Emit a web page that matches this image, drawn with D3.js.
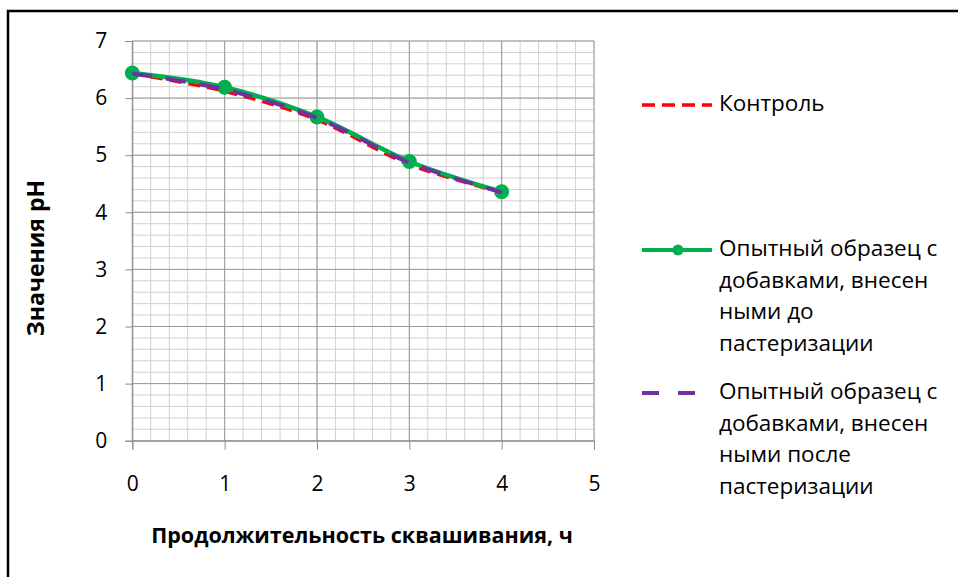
<!DOCTYPE html>
<html><head><meta charset="utf-8">
<script src="https://cdn.jsdelivr.net/npm/d3@7"></script>
<style>
body{margin:0;background:#fff;}
svg{display:block;}
text{font-family:"Open Sans",sans-serif;fill:#000;}
</style></head>
<body>
<script>
const hours = [0, 1, 2, 3, 4];
const control = [6.43, 6.12, 5.62, 4.84, 4.35];
const beforePast = [6.44, 6.19, 5.67, 4.89, 4.36];
const afterPast = [6.43, 6.15, 5.65, 4.87, 4.35];
const seriesNames = ["Контроль",
  ["Опытный образец с", "добавками, внесен", "ными до", "пастеризации"],
  ["Опытный образец с", "добавками, внесен", "ными после", "пастеризации"]];
const xTicks = [0, 1, 2, 3, 4, 5];
const yTicks = [0, 1, 2, 3, 4, 5, 6, 7];
const xTitle = "Продолжительность сквашивания, ч";
const yTitle = "Значения pH";

const W = 958, H = 577;
const svg = d3.select("body").append("svg").attr("width", W).attr("height", H);

// outer frame
svg.append("rect").attr("x", 8).attr("y", 11).attr("width", 1000).attr("height", 700)
  .attr("fill", "none").attr("stroke", "#000").attr("stroke-width", 2.5);

const x = d3.scaleLinear().domain([0, 5]).range([132.3, 594]);
const y = d3.scaleLinear().domain([0, 7]).range([440.7, 41]);

const g = svg.append("g");
// minor grid
const minorX = d3.range(0, 5.001, 0.2);
const minorY = d3.range(0, 7.001, 0.2);
g.selectAll(".mx").data(minorX).enter().append("line")
  .attr("x1", d => x(d)).attr("x2", d => x(d)).attr("y1", y(0)).attr("y2", y(7))
  .attr("stroke", "#d0d0d0").attr("stroke-width", 1);
g.selectAll(".my").data(minorY).enter().append("line")
  .attr("y1", d => y(d)).attr("y2", d => y(d)).attr("x1", x(0)).attr("x2", x(5))
  .attr("stroke", "#d0d0d0").attr("stroke-width", 1);
// major grid
g.selectAll(".Mx").data(xTicks).enter().append("line")
  .attr("x1", d => x(d)).attr("x2", d => x(d)).attr("y1", y(0)).attr("y2", y(7))
  .attr("stroke", "#9a9a9a").attr("stroke-width", 1);
g.selectAll(".My").data(yTicks).enter().append("line")
  .attr("y1", d => y(d)).attr("y2", d => y(d)).attr("x1", x(0)).attr("x2", x(5))
  .attr("stroke", "#9a9a9a").attr("stroke-width", 1);

// axes
const yAxis = svg.append("g").attr("transform", `translate(${x(0)},0)`)
  .call(d3.axisLeft(y).tickValues(yTicks).tickSize(7).tickPadding(18).tickFormat(d3.format("d")));
const xAxis = svg.append("g").attr("transform", `translate(0,${y(0)})`)
  .call(d3.axisBottom(x).tickValues(xTicks).tickSize(9).tickPadding(26).tickFormat(d3.format("d")));
[yAxis, xAxis].forEach(a => {
  a.select(".domain").attr("stroke", "#8c8c8c");
  a.selectAll(".tick line").attr("stroke", "#8c8c8c");
  a.selectAll("text").style("font-family", "'Open Sans',sans-serif").style("font-size", "21px").attr("fill", "#000");
});

// lines
const line = d3.line().x((d, i) => x(hours[i])).y(d => y(d)).curve(d3.curveCardinal.tension(0));
svg.append("path").datum(control).attr("d", line).attr("fill", "none")
  .attr("stroke", "#ff0000").attr("stroke-width", 3.5).attr("stroke-dasharray", "12,7");
svg.append("path").datum(beforePast).attr("d", line).attr("fill", "none")
  .attr("stroke", "#00b050").attr("stroke-width", 4.5);
svg.selectAll(".pt").data(beforePast).enter().append("circle")
  .attr("cx", (d, i) => x(hours[i])).attr("cy", d => y(d)).attr("r", 7.5).attr("fill", "#00b050");
svg.append("path").datum(afterPast).attr("d", line).attr("fill", "none")
  .attr("stroke", "#7030a0").attr("stroke-width", 4).attr("stroke-dasharray", "20,14");

// titles
svg.append("text").attr("x", 362).attr("y", 537).attr("text-anchor", "middle")
  .attr("dominant-baseline", "middle").style("font-weight", "bold").style("font-size", "21.5px").text(xTitle);
svg.append("text").attr("transform", "translate(38,258) rotate(-90)").attr("text-anchor", "middle")
  .attr("dominant-baseline", "middle").style("font-weight", "bold").style("font-size", "23px").text(yTitle);

// legend
const fs = "22.5px";
const lg = svg.append("g");
lg.append("line").attr("x1", 642).attr("x2", 712).attr("y1", 105).attr("y2", 105)
  .attr("stroke", "#ff0000").attr("stroke-width", 3.5).attr("stroke-dasharray", "13,7");
lg.append("text").attr("x", 719).attr("y", 105).attr("dominant-baseline", "middle").style("font-size", fs).text(seriesNames[0]);

lg.append("line").attr("x1", 642).attr("x2", 712).attr("y1", 250).attr("y2", 250)
  .attr("stroke", "#00b050").attr("stroke-width", 4);
lg.append("circle").attr("cx", 678).attr("cy", 250).attr("r", 5.5).attr("fill", "#00b050");
seriesNames[1].forEach((t, i) => lg.append("text").attr("x", 719).attr("y", 250 + i * 31.7)
  .attr("dominant-baseline", "middle").style("font-size", fs).text(t));

lg.append("line").attr("x1", 642).attr("x2", 712).attr("y1", 393).attr("y2", 393)
  .attr("stroke", "#7030a0").attr("stroke-width", 4).attr("stroke-dasharray", "17,19");
seriesNames[2].forEach((t, i) => lg.append("text").attr("x", 719).attr("y", 393 + i * 31.7)
  .attr("dominant-baseline", "middle").style("font-size", fs).text(t));
</script>
</body></html>
